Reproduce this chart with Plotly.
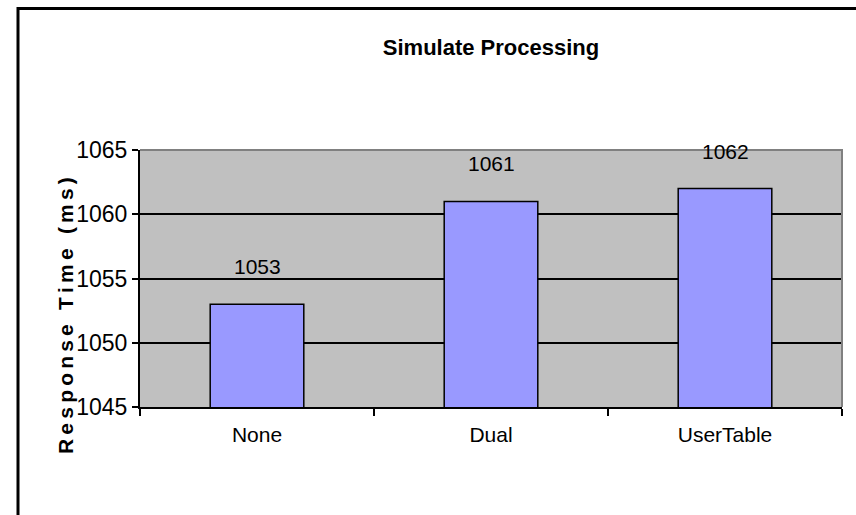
import plotly.graph_objects as go

# Response time per processing mode
categories = ["None", "Dual", "UserTable"]
response_ms = [1053, 1061, 1062]
y_ticks = [1045, 1050, 1055, 1060, 1065]
y_title = "Response Time (ms)"

W, H = 856, 515
L, R, T, B = 140, 14, 150, 108
PW, PH = W - L - R, H - T - B

FONT = "Liberation Sans, Arial, sans-serif"
THIN = "\u2009"


def px_x(px):
    return (px - L) / PW


def px_y(py):
    return (H - B - py) / PH


def spaced(text):
    # widen the lettering with thin spaces between glyphs
    words = text.split(" ")
    return (THIN + " " + THIN).join(THIN.join(w) for w in words)


fig = go.Figure()
fig.add_trace(go.Bar(
    x=categories,
    y=response_ms,
    width=0.4,
    marker=dict(color="#9999FF", line=dict(color="black", width=1.5)),
    hoverinfo="x+y",
))

# value labels above each bar
for cat, val in zip(categories, response_ms):
    fig.add_annotation(
        x=cat, y=val, xref="x", yref="y",
        text=str(val), showarrow=False,
        yanchor="bottom", yshift=24,
        font=dict(family=FONT, size=21, color="black"),
    )

# vertical axis title
fig.add_annotation(
    x=px_x(65), y=px_y(316), xref="paper", yref="paper",
    xanchor="center", yanchor="middle",
    text="<b>" + spaced(y_title) + "</b>",
    textangle=-90, showarrow=False,
    font=dict(family=FONT, size=21, color="black"),
)

# chart frame
fig.add_shape(
    type="rect", xref="paper", yref="paper",
    x0=px_x(18), x1=px_x(870), y0=px_y(8.5), y1=px_y(530),
    line=dict(color="black", width=3), fillcolor="rgba(0,0,0,0)",
    layer="above",
)
# gray top/right edges of the plot area
fig.add_shape(
    type="path", xref="paper", yref="paper",
    path="M 0 1 L 1 1 L 1 0",
    line=dict(color="#808080", width=2),
)

fig.update_layout(
    width=W, height=H,
    margin=dict(l=L, r=R, t=T, b=B),
    paper_bgcolor="white",
    plot_bgcolor="#C0C0C0",
    showlegend=False,
    title=dict(
        text="<b>Simulate Processing</b>",
        x=0.5, xanchor="center", xref="paper",
        y=1 - 47 / H, yanchor="middle",
        font=dict(family=FONT, size=22, color="black"),
    ),
    bargap=0.6,
)

fig.update_xaxes(
    type="category",
    showgrid=False,
    showline=True, linecolor="black", linewidth=2,
    ticks="outside", tickson="boundaries", ticklen=7, tickwidth=2, tickcolor="black",
    tickfont=dict(family=FONT, size=21, color="black"),
    ticklabelstandoff=8,
)
fig.update_yaxes(
    range=[y_ticks[0], y_ticks[-1]],
    tickvals=y_ticks,
    ticktext=[str(v) for v in y_ticks],
    showgrid=True, gridcolor="black", gridwidth=1.5,
    showline=True, linecolor="black", linewidth=2,
    ticks="outside", ticklen=6, tickwidth=2, tickcolor="black",
    tickfont=dict(family=FONT, size=23, color="black"),
    ticklabelstandoff=0,
    zeroline=False,
)

fig.write_html("out.html")
